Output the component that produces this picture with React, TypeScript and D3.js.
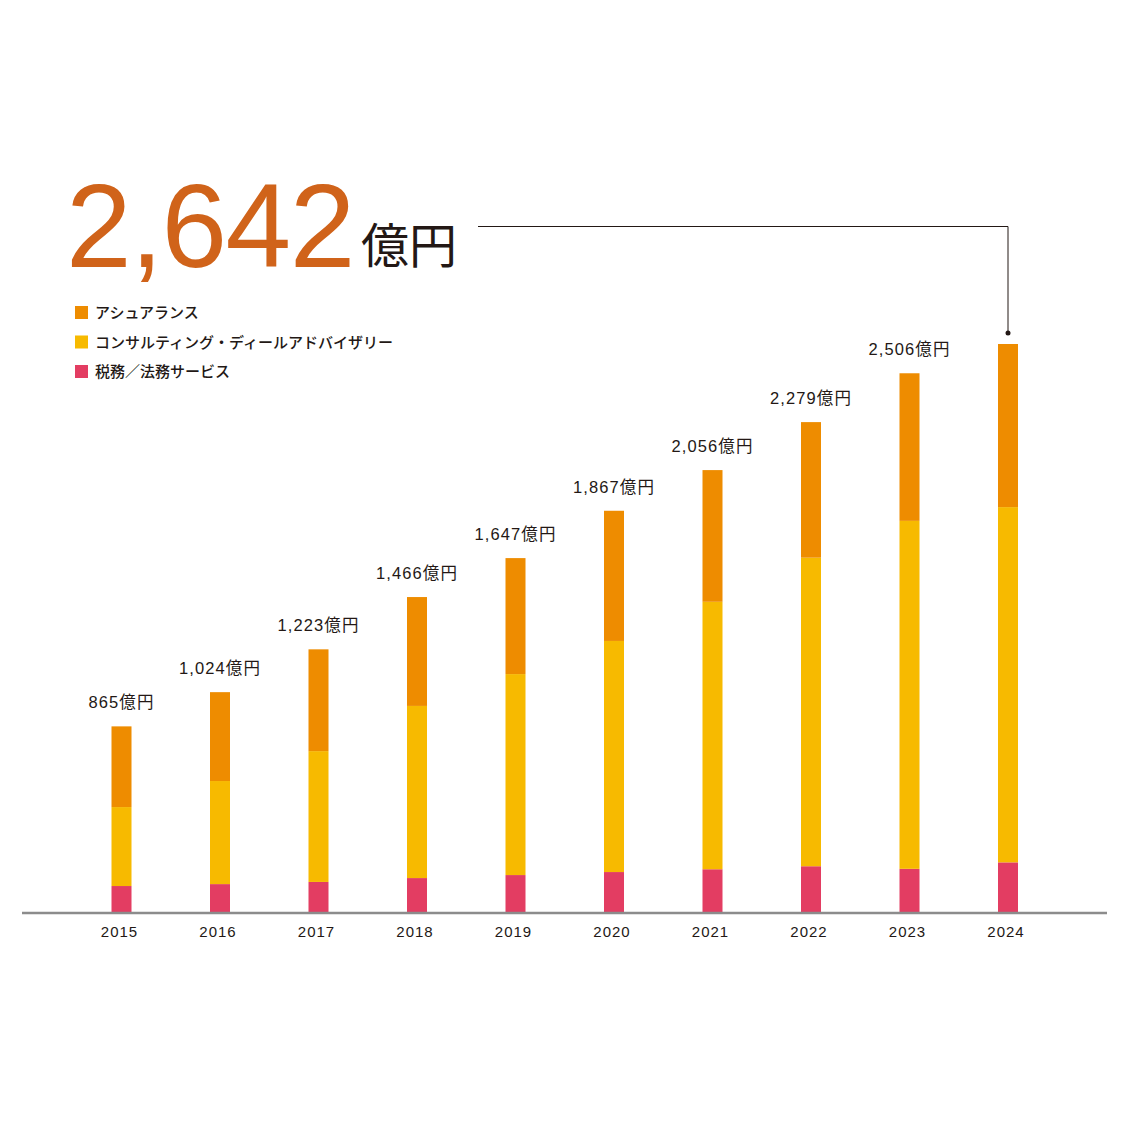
import React from "react";
import * as d3 from "d3";

const years = ["2015", "2016", "2017", "2018", "2019", "2020", "2021", "2022", "2023", "2024"];
const assurance = [375, 413, 473, 506, 539, 605, 612, 630, 686, 758];
const consulting = [367, 479, 608, 800, 934, 1074, 1243, 1434, 1617, 1651];
const taxLegal = [123, 132, 142, 160, 174, 188, 201, 215, 203, 233];
const totals = [865, 1024, 1223, 1466, 1647, 1867, 2056, 2279, 2506, 2642];
const totalLabels = ["865億円", "1,024億円", "1,223億円", "1,466億円", "1,647億円", "1,867億円", "2,056億円", "2,279億円", "2,506億円", ""];
const seriesNames = ["アシュアランス", "コンサルティング・ディールアドバイザリー", "税務／法務サービス"];
const colors = ["#EE8C00", "#F7BA00", "#E33D62"];
const headline = "2,642";
const headlineUnit = "億円";

const W = 1123;
const H = 1123;
const baseY = 912.5;
const topY = 344;
const barW = 20;

export default function App() {
  const rows = years.map((y, i) => ({
    year: y,
    tax: taxLegal[i],
    consulting: consulting[i],
    assurance: assurance[i],
  }));
  const stack = d3.stack<any>().keys(["tax", "consulting", "assurance"]);
  const layers = stack(rows);
  const x = d3.scalePoint<string>().domain(years).range([121.5, 1008]).padding(0);
  const yMax = totals[totals.length - 1];
  const y = d3.scaleLinear().domain([0, yMax]).range([baseY, topY]);
  const colorOf: Record<string, string> = {
    assurance: colors[0],
    consulting: colors[1],
    tax: colors[2],
  };
  const lastX = x(years[years.length - 1])!;
  const lastTop = y(totals[totals.length - 1]);
  const sans = "'Liberation Sans', Arial, 'Noto Sans CJK JP', sans-serif";
  const jp = "'Noto Sans CJK JP', sans-serif";

  return (
    <svg width={W} height={H} viewBox={`0 0 ${W} ${H}`} style={{ display: "block", position: "absolute", left: 0, top: 0, background: "#fff" }}>
      <rect x={0} y={0} width={W} height={H} fill="#fff" />
      {/* headline */}
      <text x={66} y={267} fontFamily={sans} fontSize={118} fill="#D0631A" letterSpacing={-1.5}>
        {headline}
      </text>
      <text x={361} y={263} fontFamily={jp} fontSize={48} fill="#231815">
        {headlineUnit}
      </text>
      {/* leader line */}
      <path
        d={`M478,226.5 H${lastX} V${lastTop - 11}`}
        fill="none"
        stroke="#231815"
        strokeWidth={1}
      />
      <circle cx={lastX} cy={lastTop - 11} r={2.5} fill="#231815" />
      {/* legend */}
      {seriesNames.map((n, i) => (
        <g key={n} transform={`translate(75, ${306 + i * 29.5})`}>
          <rect x={0} y={0} width={13} height={13} fill={colors[i]} />
          <text x={20} y={12} fontFamily={jp} fontSize={15} fontWeight={500} fill="#231815">
            {n}
          </text>
        </g>
      ))}
      {/* bars */}
      {layers.map((layer) => (
        <g key={layer.key} fill={colorOf[layer.key]}>
          {layer.map((d, i) => (
            <rect
              key={i}
              x={x(years[i])! - barW / 2}
              y={y(d[1])}
              width={barW}
              height={y(d[0]) - y(d[1])}
            />
          ))}
        </g>
      ))}
      {/* total labels */}
      {totalLabels.map((t, i) =>
        t ? (
          <text
            key={i}
            x={x(years[i])!}
            y={y(totals[i]) - 18}
            textAnchor="middle"
            fontFamily={sans}
            fontSize={16.5}
            letterSpacing={1.1}
            fill="#231815"
          >
            {t}
          </text>
        ) : null
      )}
      {/* axis */}
      <line x1={22} x2={1107} y1={913} y2={913} stroke="#8C8C8C" strokeWidth={2.5} />
      {years.map((yr) => (
        <text
          key={yr}
          x={x(yr)! - 2}
          y={937}
          textAnchor="middle"
          fontFamily={sans}
          fontSize={15}
          letterSpacing={1}
          fill="#231815"
        >
          {yr}
        </text>
      ))}
    </svg>
  );
}
